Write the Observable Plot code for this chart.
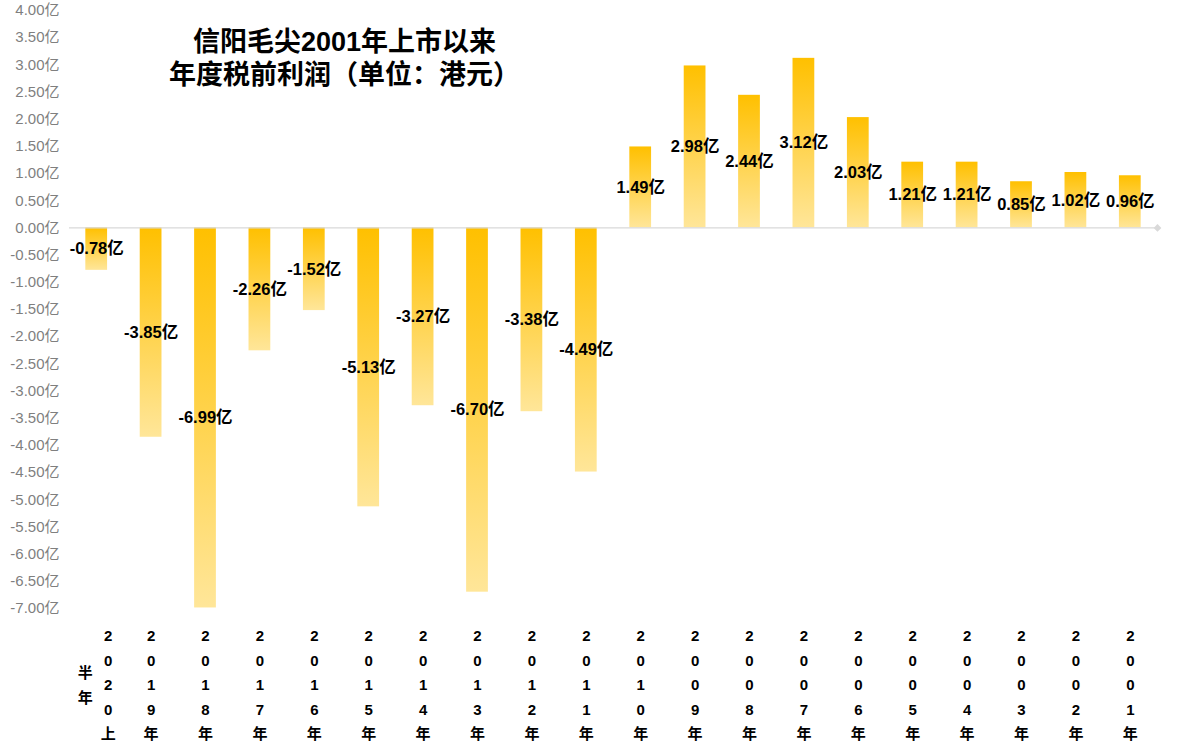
<!DOCTYPE html>
<html>
<head>
<meta charset="utf-8">
<script src="https://cdn.jsdelivr.net/npm/d3@7"></script>
<script src="https://cdn.jsdelivr.net/npm/@observablehq/plot@0.6"></script>
<style>
  html, body { margin: 0; padding: 0; background: #fff; }
  #chart { position: relative; width: 1181px; height: 748px; }
  svg g[aria-label="y-axis tick label"] text { fill: #7f7f7f; }
  svg text { text-spacing-trim: space-all; }
</style>
</head>
<body>
<div id="chart"></div>
<script>
const categories = ["2020上半年","2019年","2018年","2017年","2016年","2015年","2014年","2013年","2012年","2011年",
                    "2010年","2009年","2008年","2007年","2006年","2005年","2004年","2003年","2002年","2001年"];
const profits = [-0.78,-3.85,-6.99,-2.26,-1.52,-5.13,-3.27,-6.70,-3.38,-4.49,
                 1.49,2.98,2.44,3.12,2.03,1.21,1.21,0.85,1.02,0.96];
const titleLines = ["信阳毛尖2001年上市以来", "年度税前利润（单位：港元）"];
const unit = "亿";
const yTicks = d3.range(-7, 4.01, 0.5);

const data = categories.map((c, i) => ({cat: c, v: profits[i]}));

// vertical stacked x labels: columns of up to 5 chars, extra columns go to the left
const labelRows = [];
categories.forEach(c => {
  const chars = [...c];
  const cols = [];
  for (let i = 0; i < chars.length; i += 5) cols.push(chars.slice(i, i + 5));
  const n = cols.length;
  cols.forEach((col, i) => {
    labelRows.push({cat: c, txt: col.join("\n"), dx: ((n - 1) / 2 - i) * 23});
  });
});
const labelMarks = d3.groups(labelRows, r => r.dx).map(([dx, rows]) =>
  Plot.text(rows, {
    x: "cat", text: "txt", frameAnchor: "bottom", dy: 74, dx,
    lineAnchor: "middle", lineHeight: 1.63, fontSize: 15, fontWeight: "bold", fill: "#000"
  })
);

const FONT = "'Liberation Sans', 'Noto Sans CJK SC', sans-serif";

const plot = Plot.plot({
  width: 1181,
  height: 748,
  marginLeft: 69,
  marginRight: 24,
  marginTop: 10,
  marginBottom: 140,
  style: {fontFamily: FONT, fontSize: "15px", background: "#fff"},
  x: {domain: categories, paddingInner: 0.6, paddingOuter: 0.3, round: false, axis: null},
  y: {domain: [-7, 4], ticks: yTicks, tickFormat: d => d.toFixed(2) + unit, tickSize: 0, tickPadding: 10, label: null},
  marks: [
    Plot.barY(data, {x: "cat", y: "v", fill: "url(#barGrad)"}),
    Plot.ruleY([0], {stroke: "#d9d9d9", strokeWidth: 1.3}),
    Plot.dot([0], {y: d => d, frameAnchor: "right", symbol: "diamond2", r: 3.5, fill: "#d9d9d9", stroke: "none"}),
    Plot.text(data, {
      x: "cat", y: d => d.v / 2, text: d => d.v.toFixed(2) + unit,
      fontSize: 16.5, fontWeight: "bold", fill: "#000"
    }),
    ...labelMarks,
    Plot.text([titleLines.join("\n")], {
      text: d => d, frameAnchor: "top-left", dx: 344 - 69, dy: 46,
      textAnchor: "middle", lineAnchor: "middle", lineHeight: 1.22,
      fontSize: 27, fontWeight: "bold", fill: "#000",
      fontFamily: "'Liberation Sans', 'Noto Sans CJK SC', sans-serif"
    })
  ]
});

const svg = d3.select(plot);
const grad = svg.insert("defs", ":first-child")
  .append("linearGradient")
  .attr("id", "barGrad")
  .attr("x1", 0).attr("y1", 0).attr("x2", 0).attr("y2", 1);
grad.append("stop").attr("offset", "0%").attr("stop-color", "#FFC000");
grad.append("stop").attr("offset", "100%").attr("stop-color", "#FFE699");

document.getElementById("chart").appendChild(plot);
</script>
</body>
</html>
